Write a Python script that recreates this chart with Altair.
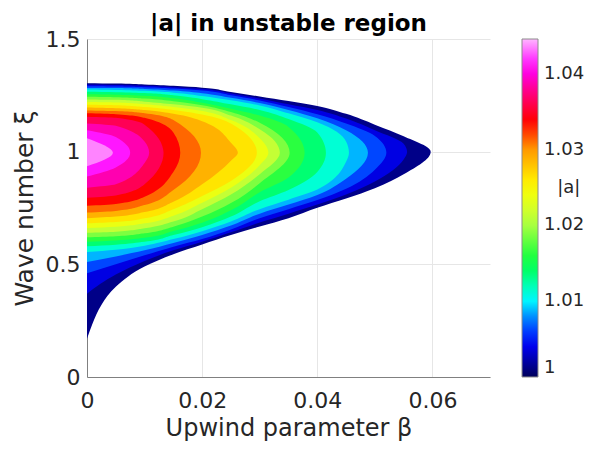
import altair as alt
import pandas as pd

# ---- data ----
# contour levels of |a| (region |a| >= level lies left of the contour)
LEVELS = [1.0, 1.0025, 1.005, 1.0075, 1.01, 1.0125, 1.015, 1.0175, 1.02,
          1.0225, 1.025, 1.0275, 1.03, 1.0325, 1.035, 1.0375, 1.04, 1.0425]
PEAK = 1.0446  # largest |a|, at beta = 0, xi = 1

# beta columns at which contour crossings were read
BETA_COLS = [0, 0.005, 0.01, 0.015, 0.02, 0.025, 0.03, 0.035, 0.04, 0.045, 0.05, 0.055]

# lower-branch xi of each contour at the beta columns (until its tip)
LOWER = [
    [0.17, 0.40, 0.49, 0.545, 0.588, 0.630, 0.668, 0.705, 0.751, 0.792, 0.838, 0.900],
    [0.37, 0.455, 0.515, 0.562, 0.600, 0.642, 0.686, 0.725, 0.765, 0.81, 0.868, 0.965],
    [0.46, 0.50, 0.54, 0.578, 0.612, 0.655, 0.705, 0.745, 0.785, 0.835, 0.92],
    [0.51, 0.535, 0.562, 0.595, 0.63, 0.672, 0.725, 0.765, 0.808, 0.88],
    [0.555, 0.565, 0.583, 0.612, 0.647, 0.69, 0.745, 0.787, 0.832, 0.955],
    [0.58, 0.587, 0.60, 0.63, 0.665, 0.712, 0.78, 0.83, 0.91],
    [0.600, 0.606, 0.618, 0.648, 0.685, 0.74, 0.82, 0.885],
    [0.62, 0.625, 0.638, 0.667, 0.712, 0.772, 0.86],
    [0.640, 0.645, 0.66, 0.69, 0.745, 0.81, 0.90],
    [0.661, 0.667, 0.682, 0.716, 0.773, 0.84, 0.94],
    [0.682, 0.688, 0.705, 0.745, 0.803, 0.87],
    [0.705, 0.712, 0.732, 0.778, 0.855, 0.96],
    [0.730, 0.737, 0.763, 0.83],
    [0.76, 0.768, 0.80, 0.91],
    [0.795, 0.805, 0.855],
    [0.84, 0.855, 0.95],
    [0.89, 0.93],
    [0.935],
]
# upper-branch xi of each contour at the beta columns
UPPER = [
    [1.304, 1.302, 1.298, 1.292, 1.284, 1.265, 1.245, 1.225, 1.203, 1.168, 1.120, 1.068],
    [1.297, 1.296, 1.292, 1.286, 1.278, 1.258, 1.236, 1.21, 1.185, 1.147, 1.095, 1.035],
    [1.290, 1.289, 1.286, 1.280, 1.271, 1.250, 1.227, 1.198, 1.166, 1.125, 1.07],
    [1.283, 1.282, 1.278, 1.271, 1.259, 1.239, 1.216, 1.185, 1.148, 1.095],
    [1.276, 1.274, 1.270, 1.262, 1.247, 1.228, 1.205, 1.17, 1.13, 1.045],
    [1.266, 1.264, 1.26, 1.25, 1.233, 1.21, 1.185, 1.145, 1.085],
    [1.255, 1.253, 1.248, 1.237, 1.217, 1.19, 1.16, 1.11],
    [1.244, 1.242, 1.236, 1.224, 1.206, 1.176, 1.128],
    [1.232, 1.230, 1.222, 1.21, 1.195, 1.16, 1.10],
    [1.22, 1.218, 1.21, 1.198, 1.18, 1.14, 1.06],
    [1.208, 1.206, 1.198, 1.185, 1.165, 1.125],
    [1.196, 1.193, 1.185, 1.168, 1.135, 1.04],
    [1.183, 1.180, 1.17, 1.14],
    [1.17, 1.166, 1.15, 1.085],
    [1.155, 1.15, 1.12],
    [1.125, 1.115, 1.045],
    [1.095, 1.065],
    [1.06],
]
# rightmost point (tip) of each contour
TIP_BETA = [0.0597, 0.0556, 0.052, 0.0488, 0.0455, 0.0415, 0.0378, 0.0352, 0.0335,
            0.0315, 0.0295, 0.0262, 0.0198, 0.0162, 0.0133, 0.0108, 0.0075, 0.0045]
TIP_XI = [1.0, 0.998, 0.996] + [0.995] * 15
# extra points of the outer boundary close to the beta = 0 axis
EDGE_BETA = [0.001, 0.0025]
EDGE_XI = [0.24, 0.32]

# colormap of the colorbar
CMAP_VALUES = [1.0, 1.0045, 1.0077, 1.0102, 1.0150, 1.0205, 1.0250, 1.0300,
               1.0338, 1.0375, 1.0408, PEAK]
CMAP_COLORS = ["#00005a", "#0000ff", "#0080ff", "#00ffff", "#00ff40", "#b8ff40",
               "#ffff00", "#ff9900", "#ff0000", "#ff0080", "#ff00ff", "#ffb6ff"]

X_TICKS = [0, 0.02, 0.04, 0.06]
Y_TICKS = [0, 0.5, 1, 1.5]
CBAR_TICKS = [1, 1.01, 1.02, 1.03, 1.04]
CBAR_LABEL = "|a|"
CBAR_LABEL_AT = 1.025  # colorbar label sits between the 1.02 and 1.03 ticks

# ---- build table ----
rows = []
for i, lev in enumerate(LEVELS):
    nxt = LEVELS[i + 1] if i + 1 < len(LEVELS) else PEAK
    band = (lev + nxt) / 2
    pts = []
    for j, xi in enumerate(LOWER[i]):
        pts.append((BETA_COLS[j], xi))
    if i == 0:
        pts += list(zip(EDGE_BETA, EDGE_XI))
    pts.append((TIP_BETA[i], TIP_XI[i]))
    for j, xi in enumerate(UPPER[i]):
        pts.append((BETA_COLS[j], xi))
    for b, xi in sorted(pts, key=lambda p: p[1]):
        rows.append({"level": i, "beta": b, "xi": xi, "val": band})
df = pd.DataFrame(rows)

FONT = "DejaVu Sans"
TXT = "#262626"

xscale = alt.Scale(domain=[0, 0.07], nice=False)
yscale = alt.Scale(domain=[0, 1.5], nice=False)
cscale = alt.Scale(domain=CMAP_VALUES, range=CMAP_COLORS, interpolate="rgb")

xaxis = alt.Axis(values=X_TICKS, format="~g", title="Upwind parameter β",
                 grid=True, ticks=False, labelFlush=False, labelPadding=13,
                 titlePadding=5, titleFontSize=24)
yaxis = alt.Axis(values=Y_TICKS, format="~g", title="Wave number ξ",
                 grid=True, ticks=False, labelFlush=False, labelPadding=7,
                 titlePadding=8)
BLANK = "\u2800"  # invisible glyph used to push the colorbar label right
legend = alt.Legend(
    title=None, orient="right", offset=32, direction="vertical",
    gradientLength=338, gradientThickness=16,
    values=CBAR_TICKS + [CBAR_LABEL_AT],
    labelExpr=(f"datum.value == {CBAR_LABEL_AT} ? '{BLANK}{CBAR_LABEL}' : "
               "datum.value == 1 ? '1' : format(datum.value, '.2f')"),
    labelFontSize=18, labelFont=FONT, labelColor=TXT, labelOffset=6,
    labelOverlap=False, gradientStrokeColor="#8c8c8c", gradientStrokeWidth=1,
    padding=0,
)

layers = []
for i in range(len(LEVELS)):
    layers.append(
        alt.Chart(df)
        .transform_filter(alt.datum.level == i)
        .mark_area(orient="horizontal", interpolate="monotone", clip=True)
        .encode(
            y=alt.Y("xi:Q", scale=yscale, axis=yaxis),
            x=alt.X("beta:Q", scale=xscale, axis=xaxis, stack=None),
            color=alt.Color("val:Q", scale=cscale, legend=legend),
        )
    )

chart = (
    alt.layer(*layers)
    .properties(
        width=403, height=338,
        title=alt.TitleParams("|a| in unstable region", font=FONT, fontSize=23,
                              fontWeight="bold", color="#000000", offset=-8,
                              anchor="middle", frame="group"),
        padding={"left": 79, "top": 31, "right": 94, "bottom": 68},
        autosize=alt.AutoSizeParams(type="none"),
    )
    .configure_view(stroke=None)
    .configure_axis(
        labelFont=FONT, titleFont=FONT, labelFontSize=22, titleFontSize=25,
        labelColor=TXT, titleColor=TXT, titleFontWeight="normal",
        gridColor="#e6e6e6", gridWidth=1, domainColor="#808080", domainWidth=1,
    )
)

chart.save("out.html", embed_options={"renderer": "svg", "actions": False})
